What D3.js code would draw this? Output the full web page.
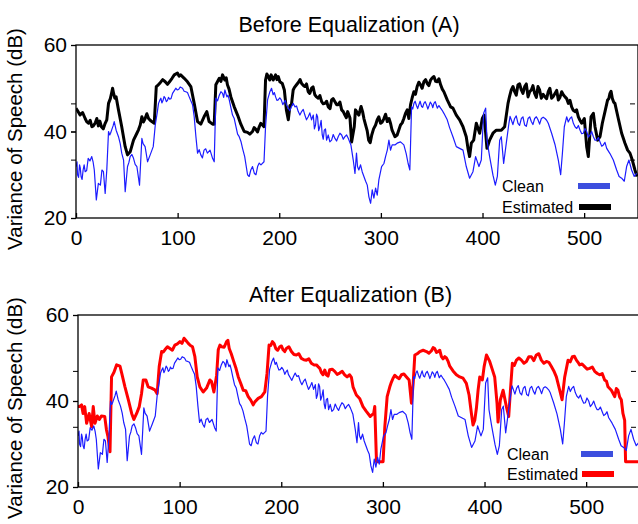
<!DOCTYPE html>
<html>
<head>
<meta charset="utf-8">
<script src="https://cdn.jsdelivr.net/npm/d3@7"></script>
<style>
body { margin: 0; background: #fff; }
svg { display: block; }
text { font-family: "Liberation Sans", Arial, sans-serif; fill: #000; }
</style>
</head>
<body>
<script>

var svg_width  = 638;
var svg_height = 524;

// titles, ticks, legend
var titles = ["Before Equalization (A)", "After Equalization (B)"];
var yLabel = "Variance of Speech (dB)";
var xTicks = [0, 100, 200, 300, 400, 500];
var yTicks = [20, 40, 60];
var minorTicksA = [33.5, 40, 46.5];
var minorTicksB = [34, 40, 47];
var legendNames = ["Clean", "Estimated"];

// [frame, dB] (main shape)
var clean = [[0,31.9],[1.5,30.0],[3.5,32.3],[5,29.6],[7,31.1],[9,30.7],[12,33.8],[15.5,34.2],[18,31.1],[20,24.2],
  [22,28.0],[24,27.6],[25.5,31.1],[27,30.7],[28.7,25.7],[30.3,31.1],[32,40.0],[34,39.6],[35.3,40.5],[37.6,42.3],
  [39.5,40.3],[41.8,38.8],[45,35.0],[46.8,33.4],[48.4,26.1],[50.7,31.9],[53.3,34.2],[56.6,33.8],[59.9,31.9],[62.5,27.6],
  [64.8,38.4],[66,37.2],[68,36.5],[70.4,33.0],[73,34.6],[76,36.5],[78,41.5],[81.2,46.5],[83.5,47.7],[85.5,47.1],
  [87.8,47.7],[90,47.2],[92,47.5],[95,48.8],[98.2,50.0],[101,49.7],[104.8,50.0],[108,49.2],[111.4,48.0],[114.7,46.2],
  [116.3,43.4],[118,38.8],[119.6,35.0],[122.8,34.6],[126,35.7],[127.6,36.0],[129.3,35.0],[131.9,35.7],[134.4,33.8],[136,33.0],
  [137.6,47.7],[141,48.4],[144.2,48.8],[146.5,49.6],[148.5,48.0],[150.8,47.3],[154,43.8],[157.4,41.1],[160.6,38.8],[164,36.0],
  [166,34.2],[168.8,30.0],[172,31.1],[175.5,30.3],[178.7,31.9],[182,32.3],[185,33.0],[186.5,41.1],[188.5,47.3],[190.8,49.2],
  [192.4,50.0],[194,48.5],[196.4,48.0],[199,47.3],[202,47.3],[205,46.9],[207,46.2],[208.9,45.4],[212,45.7],[213.7,46.5],
  [215.4,45.7],[218.7,44.6],[222,44.6],[225.2,43.8],[228.5,43.4],[231.8,42.7],[233.5,43.8],[235.7,41.5],[237.7,43.4],[240,41.1],
  [242.3,39.2],[244.3,40.3],[246.6,38.0],[248.2,39.2],[251.5,38.0],[254.8,38.4],[258,38.8],[261.4,39.2],[264.6,38.8],[268,38.4],
  [270.5,36.9],[272.8,33.4],[274.5,30.3],[276,35.0],[277,31.9],[278.3,31.1],[280,32.3],[281.6,30.7],[283.3,29.6],[285,28.5],
  [286.6,27.6],[288.2,24.9],[289.9,23.4],[291.5,26.5],[293.1,24.6],[294.8,26.9],[296.4,25.3],[298,28.8],[300.7,31.9],[303,32.6],
  [304.6,34.2],[306.3,35.7],[307.9,38.0],[309.5,35.7],[311.1,36.9],[313.8,36.9],[316,37.3],[319.3,37.6],[322.6,36.9],[324.9,34.9],
  [326.8,32.6],[328.5,31.1],[330.2,45.7],[332.5,46.5],[335,46.0],[337.4,46.2],[340,45.8],[342.3,46.5],[345,46.1],[347.3,45.9],
  [350,46.3],[352.2,46.5],[355.5,45.4],[358.8,45.4],[362,44.2],[365.3,42.7],[367.6,40.9],[370.9,38.8],[374.2,36.5],[377.5,36.1],
  [380.8,35.7],[384,31.9],[387.3,29.2],[390.6,30.7],[393.2,34.2],[396.5,31.9],[398.8,33.4],[401.1,44.2],[403.1,45.4],[404.4,38.0],
  [407,34.2],[410.3,29.9],[412.6,27.6],[414.6,29.6],[416.9,38.0],[418.5,38.8],[420.8,32.6],[423.4,37.3],[426,41.9],[428.3,42.7],
  [431.6,43.0],[434.9,41.9],[438.2,43.0],[441.5,41.5],[444.8,43.0],[448,42.3],[451.3,43.0],[454.6,42.7],[457.9,43.0],[461.5,43.0],
  [464.7,41.9],[468,39.6],[471.3,37.0],[474.6,33.4],[476.9,30.0],[478.6,34.9],[480.5,41.1],[482.8,43.4],[486.1,43.0],[489.4,41.9],
  [492.7,40.7],[496,40.3],[499.2,39.6],[502.5,40.0],[505.8,39.2],[509.1,38.8],[512.3,38.0],[515.6,37.6],[518.9,36.9],[522.2,36.1],
  [525.4,34.9],[528.7,33.4],[532,31.1],[534.4,29.6],[536.9,29.2],[539.5,28.5],[541.8,31.9],[544.1,33.4],[546.7,31.1],[549.3,29.6],
  [551.6,30.3]];

// small wiggles read between the main points
var cleanDetail = [[1,33.0],[2.5,29.4],[4.2,31.6],[6,28.9],[8,32.3],[10.5,31.0],[13.7,33.2],[16.8,33.0],[33.2,39.2],[36.5,41.3],
  [43.5,37.2],[52,32.8],[55,34.7],[58.2,32.4],[80,44.5],[82.4,47.2],[84.5,46.6],[86.7,48.1],[88.9,46.9],[91,47.9],
  [93.5,47.6],[96.6,49.4],[99.6,49.6],[102.5,50.3],[106.4,49.3],[109.7,49.0],[113,47.1],[121.2,35.8],[124.4,33.9],[139.3,47.1],
  [142.6,49.2],[145.3,47.9],[149.6,48.4],[152.4,45.5],[155.7,43.0],[159,39.4],[162.3,37.7],[170.4,29.6],[173.7,31.9],[177.1,30.0],
  [180.3,32.7],[195.2,49.0],[197.7,47.2],[200.5,47.8],[203.5,46.2],[206,47.2],[210.4,44.8],[217,45.9],[220.3,43.8],[223.6,45.1],
  [226.8,42.7],[230.1,44.3],[234.6,40.6],[236.7,44.0],[238.8,40.2],[241.2,42.6],[243.3,38.2],[245.5,40.6],[249.8,37.6],[253.1,39.3],
  [256.4,37.8],[259.7,39.6],[263,38.2],[266.3,39.2],[331.3,45.2],[333.7,47.0],[336.2,45.3],[338.6,47.0],[341.1,45.6],[343.6,46.9],
  [346.2,45.2],[348.6,46.8],[351.1,45.5],[353.5,46.9],[357.1,46.0],[360.3,44.9],[427.1,43.5],[429.9,41.6],[433.2,43.6],[436.5,41.4],
  [439.8,43.4],[443.1,41.2],[446.4,43.4],[449.6,41.6],[453,43.4],[456.2,41.7],[459.7,43.3],[463.1,42.6],[484.4,42.2],[487.7,43.4],
  [491,41.1],[494.3,41.4],[497.6,39.5],[500.8,40.7],[504.1,38.7],[507.4,40.0],[510.7,38.0],[514,38.6],[517.3,36.6],[520.5,37.5]];

var estBefore = [[0,45.4],[4,43.8],[9,43.0],[12.3,41.9],[15.6,41.1],[17,41.3],[20.5,43.0],[22,41.3],[25,41.1],[28.7,41.9],
  [30.3,42.7],[32,46.5],[35.3,49.2],[37,48.8],[39.5,48.0],[41.8,45.0],[45,41.1],[48.4,36.5],[50.7,34.6],[53.3,35.3],
  [56.6,38.0],[59.9,39.6],[63.2,41.5],[64.8,43.4],[68,43.0],[71.4,43.0],[74.6,42.3],[77,41.9],[79,50.4],[82.9,51.3],
  [87.8,51.5],[92,51.5],[96.7,53.1],[103,53.1],[106.5,52.3],[109.7,51.5],[113,50.4],[116.3,46.5],[119.6,42.3],[122.8,41.7],
  [126,43.4],[128.7,44.6],[131,42.3],[134.4,41.7],[136,41.7],[137.6,50.8],[141,52.3],[144.2,53.1],[146.5,51.9],[149,50.8],
  [152.4,48.0],[155.7,45.7],[159,43.8],[162.2,41.7],[165.5,40.0],[168.8,39.8],[173.7,40.0],[177,40.5],[180.3,41.1],[183.5,41.5],
  [185,41.1],[186.5,51.9],[189.2,52.7],[192,53.1],[194,51.9],[196.4,53.1],[199,52.7],[200.6,51.5],[203,51.1],[205,49.6],
  [207,45.0],[208.9,42.7],[210.5,46.0],[212,46.2],[213.7,49.6],[217,50.8],[219.3,51.5],[222,51.1],[225.2,50.4],[228.5,49.2],
  [231.8,50.0],[235,48.5],[238.4,47.7],[241.7,46.9],[245,46.5],[248.2,45.7],[251.5,47.3],[254.8,46.9],[258,46.2],[261.4,45.0],
  [264.6,43.8],[267.3,44.6],[269.6,43.1],[271.2,37.6],[273.8,41.1],[275,45.0],[278.3,43.8],[280.5,45.8],[283.3,43.0],[285,41.5],
  [288,38.0],[291,39.2],[294.8,41.5],[296.4,42.7],[299.7,41.9],[303,43.0],[306.3,42.3],[308,43.0],[311,40.3],[313.8,38.8],
  [316,39.2],[319.3,41.5],[322.6,43.0],[325.9,45.0],[327.5,43.0],[329.2,46.2],[332.5,49.2],[335.7,50.4],[339,50.8],[342.3,51.5],
  [345.6,51.1],[348.9,51.9],[352.2,52.7],[355.5,51.5],[358.8,50.8],[362,49.2],[365.3,47.3],[368.6,45.7],[370.9,45.4],[374.2,43.8],
  [377.5,42.7],[380.8,41.1],[384,38.8],[385.7,36.1],[387.3,34.2],[389,37.3],[391.3,38.0],[393.9,41.9],[397.2,39.6],[399.8,43.0],
  [401.5,43.8],[403.1,39.6],[404.4,36.1],[407,38.0],[410.3,39.6],[413.6,40.3],[418.5,40.3],[421.8,41.1],[425.1,46.5],[428.3,49.6],
  [431.6,49.2],[434.9,50.8],[438.2,49.6],[441.5,50.4],[444.8,48.0],[448,49.6],[451.3,48.8],[454.6,50.4],[457.9,47.7],[461.5,48.0],
  [464.7,49.2],[468,47.7],[471.3,48.8],[474.6,47.3],[477.9,49.2],[481.2,48.0],[484.5,46.5],[487.7,45.7],[491,44.6],[494.3,43.4],
  [497.6,41.9],[500.2,43.0],[502.5,36.5],[504.1,34.2],[506.8,43.4],[509.1,44.2],[510.7,41.1],[513.3,38.0],[515.6,38.8],[517.9,41.9],
  [520.5,44.6],[523.1,47.3],[525.4,48.8],[527.7,47.7],[530.3,46.5],[533.6,43.0],[536.9,39.6],[540.2,37.3],[542.8,35.7],[545.1,35.0],
  [547.4,33.4],[550,31.1],[552,29.6]];

var estBeforeDetail = [[2,44.6],[6.5,44.4],[10.5,42.3],[14,42.6],[19,42.0],[23.5,42.4],[26.8,40.6],[33.8,47.6],[36,50.0],[38.2,47.7],
  [61.5,40.4],[66.4,42.2],[69.7,44.1],[73,42.6],[81,50.8],[85.3,52.0],[90,50.9],[94.5,52.3],[99.8,53.5],[101.5,52.8],
  [142.6,51.6],[147.8,52.4],[150.6,49.8],[171,39.4],[175.3,40.9],[178.6,39.9],[181.8,41.9],[187.8,53.3],[190.6,51.9],[197.7,52.0],
  [215,50.2],[220.5,52.0],[224,50.6],[226.8,51.0],[230,48.8],[233.3,50.3],[236.6,48.0],[240,48.3],[243.3,46.4],[246.6,47.0],
  [250,45.3],[253,47.6],[256.5,46.2],[259.7,46.8],[263,44.6],[266,43.2],[282,44.6],[286.5,40.2],[289.5,37.4],[292.8,40.6],
  [298,43.4],[301.4,42.2],[304.6,44.0],[309.6,41.8],[321,42.0],[324.2,44.2],[330.8,47.8],[334,48.6],[337.3,51.4],[340.6,50.0],
  [344,52.0],[347.2,50.6],[350.5,52.4],[353.8,51.6],[357.1,52.2],[360.4,49.8],[426.7,48.2],[430,50.4],[433.2,48.4],[436.5,51.0],
  [439.8,48.8],[443.1,51.0],[446.4,49.2],[449.6,50.6],[453,47.9],[456.2,49.6],[459.7,48.6],[463.1,47.6],[466.3,50.0],[469.6,48.1],
  [473,49.5],[476.2,47.9],[479.5,48.5],[482.8,47.6],[486.1,47.2],[489.3,44.9],[492.6,45.0],[495.9,42.6],[524.3,47.6],[526.5,49.3],
  [529,46.8]];

var estAfter = [[0,38.7],[1.3,38.7],[3.5,39.1],[5,37.1],[6.6,38.7],[8.5,34.8],[11,37.1],[13.4,34.0],[15,38.7],[16.7,34.8],
  [19,36.5],[21,35.7],[23,36.5],[26.3,36.4],[28,33.3],[29.5,31.7],[31.5,28.2],[33,45.6],[35.4,46.7],[38,48.4],
  [41.3,48.1],[43,46.5],[46.2,43.3],[49.5,40.3],[52.8,37.1],[55,35.7],[57.7,37.1],[60.3,38.7],[62.5,41.7],[64.2,44.9],
  [66.8,44.9],[69,43.3],[72.3,43.0],[75.6,42.6],[77.9,41.7],[79.9,48.0],[82.3,51.5],[85.5,51.9],[90.4,52.2],[95.3,53.0],
  [100.3,53.8],[104.3,54.6],[108.5,53.4],[112.7,52.6],[115,50.3],[117.3,45.6],[119.9,43.3],[123.2,42.1],[126.5,43.0],[129.8,44.9],
  [131.4,44.5],[133.7,42.1],[136.4,46.0],[138,51.9],[141.3,52.6],[146.2,53.8],[148.8,52.2],[152.8,49.5],[157.7,45.6],[162.6,42.5],
  [167.5,41.0],[172.4,39.1],[174,39.8],[177.3,40.6],[180.5,41.0],[183.8,42.1],[186,46.4],[188,53.0],[191.3,53.8],[194.6,52.2],
  [198.5,52.6],[201.8,51.9],[205,52.2],[210,51.5],[214.9,50.7],[219.8,49.9],[224.7,49.5],[229.6,48.8],[234.6,48.4],[237.9,47.6],
  [241.1,46.1],[244.4,46.1],[247.7,47.3],[252.6,46.9],[257.5,46.5],[262.4,46.1],[267.3,46.1],[270.6,43.3],[273.9,41.4],[277.1,40.6],
  [280.4,38.7],[283.7,37.6],[287.6,36.4],[290.9,37.1],[292,38.7],[293.7,25.9],[300.2,25.9],[301.9,34.0],[304.2,41.0],[306.8,43.3],
  [310,45.3],[313.4,45.6],[318.3,46.1],[323.2,45.6],[325.8,44.9],[328.1,39.5],[329.8,44.1],[331.4,50.7],[336.3,51.5],[342.9,51.5],
  [347.8,51.7],[351,52.2],[354.4,51.5],[357.6,50.3],[360.9,50.3],[364.2,49.2],[365.8,48.1],[369,47.0],[372.3,46.1],[375.6,45.6],
  [378.9,45.3],[382.1,44.1],[384.8,41.4],[387.1,37.1],[388.7,34.4],[390.4,35.5],[392,38.3],[393.7,42.6],[395.3,45.6],[397.9,44.9],
  [399.6,48.0],[401.9,50.7],[405.1,49.2],[407.7,47.3],[410,45.6],[412.3,39.5],[413.3,35.1],[415.6,40.3],[418.3,42.5],[421.5,38.7],
  [423.8,36.4],[425.5,42.5],[427.4,48.8],[431.4,49.5],[436.3,49.5],[441.2,49.2],[446.1,50.3],[451,50.7],[455.9,49.5],[460.9,49.2],
  [465.8,48.0],[470.7,45.6],[474,42.5],[476.3,40.3],[478.9,45.6],[482.2,49.5],[486.4,50.3],[490.4,49.5],[493.6,48.4],[498.5,48.0],
  [503.5,47.6],[508.4,46.9],[513.3,46.1],[518.2,44.9],[521.5,43.3],[524.8,42.5],[528.1,41.0],[531.3,42.5],[534.6,40.3],[536.2,37.1],
  [537.9,35.5],[538.8,25.9],[552,25.9]];

var estAfterDetail = [[84,51.4],[88,52.6],[92.8,51.8],[97.8,53.3],[102.3,53.4],[106.4,54.0],[110.6,52.9],[139.7,53.0],[143.8,52.5],[147.5,54.1],
  [150.8,51.0],[155.2,47.8],[160,44.2],[165,42.4],[170,40.2],[189.7,52.9],[193,53.3],[196.5,51.8],[200.2,52.8],[203.4,51.5],
  [207.5,52.6],[212.5,50.8],[217.3,51.0],[222.2,49.6],[227.1,49.8],[232.1,48.4],[236.2,48.0],[239.5,46.6],[242.8,47.2],[246,45.8],
  [250.1,47.4],[255,46.2],[260,46.9],[264.8,45.6],[269,45.5],[308.4,44.4],[311.7,46.0],[316,45.2],[320.7,46.3],[334,51.0],
  [339.6,51.8],[345.3,51.1],[349.4,52.4],[352.7,51.3],[356,51.8],[359.2,49.8],[362.5,50.0],[429.4,48.3],[433.8,50.0],[438.8,48.8],
  [443.6,50.3],[448.5,49.4],[453.4,51.0],[458.4,48.8],[463.3,49.0],[468.2,47.0],[484.3,49.1],[488.4,50.4],[492,49.0],[496,48.6],
  [501,47.4],[506,47.9],[511,46.4],[515.8,46.4],[520,44.6],[526.4,41.8],[529.7,42.9],[533,40.9]];

function byFrame(a, b) { return a[0] - b[0]; }
var cleanAll = clean.concat(cleanDetail).sort(byFrame);
var estBeforeAll = estBefore.concat(estBeforeDetail).sort(byFrame);
var estAfterAll = estAfter.concat(estAfterDetail).sort(byFrame);

var panels = [
  {id: "a", title: titles[0], est: estBeforeAll, estColor: "#000000", minor: minorTicksA,
   left: 76, right: 638, top: 45, bottom: 218, xMax: 553,
   titleY: 32, labelY: 139, legX: 502, legY: [186, 207], barX: 578},
  {id: "b", title: titles[1], est: estAfterAll, estColor: "#ff0000", minor: minorTicksB,
   left: 78, right: 639, top: 315, bottom: 487, xMax: 552,
   titleY: 302, labelY: 408, legX: 507, legY: [454, 474], barX: 581}
];

var svg = d3.select('body').append('svg')
            .attr('width', svg_width)
            .attr('height', svg_height);

panels.forEach(function(p) {
  var x = d3.scaleLinear().domain([0, p.xMax]).range([p.left, p.right]);
  var y = d3.scaleLinear().domain([20, 60]).range([p.bottom, p.top]);

  svg.append("clipPath").attr("id", "clip-" + p.id)
     .append("rect")
     .attr("x", p.left).attr("y", p.top)
     .attr("width", p.right - p.left).attr("height", p.bottom - p.top);

  var line = d3.line()
      .x(function(d) { return x(d[0]); })
      .y(function(d) { return y(d[1]); });

  var plot = svg.append("g").attr("clip-path", "url(#clip-" + p.id + ")");

  plot.append("path")
      .datum(p.est)
      .attr("d", line)
      .attr("fill", "none")
      .attr("stroke", p.estColor)
      .attr("stroke-width", 3)
      .attr("stroke-linejoin", "round");

  plot.append("path")
      .datum(cleanAll)
      .attr("d", line)
      .attr("fill", "none")
      .attr("stroke", "#1c1cff")
      .attr("stroke-width", 1.2)
      .attr("stroke-linejoin", "round");

  // frame
  svg.append("rect")
     .attr("x", p.left).attr("y", p.top)
     .attr("width", p.right - p.left).attr("height", p.bottom - p.top)
     .attr("fill", "none")
     .attr("stroke", "#000")
     .attr("stroke-width", 1.3);

  var xAxis = svg.append("g")
      .attr("transform", "translate(0," + p.bottom + ")")
      .call(d3.axisBottom(x).tickValues(xTicks).tickSizeInner(-5).tickSizeOuter(0).tickPadding(12));
  xAxis.select(".domain").remove();
  xAxis.selectAll("text").attr("font-size", 21).attr("font-family", null);
  xAxis.selectAll("line").attr("stroke-width", 1.3);

  var yAxis = svg.append("g")
      .attr("transform", "translate(" + p.left + ",0)")
      .call(d3.axisLeft(y).tickValues(yTicks).tickSize(5).tickPadding(4));
  yAxis.select(".domain").remove();
  yAxis.selectAll("text").attr("font-size", 21).attr("font-family", null);
  yAxis.selectAll("line").attr("stroke-width", 1.3);

  var yMinor = svg.append("g")
      .attr("transform", "translate(" + p.left + ",0)")
      .call(d3.axisLeft(y).tickValues(p.minor).tickSize(5).tickFormat(""));
  yMinor.select(".domain").remove();

  var yRight = svg.append("g")
      .attr("transform", "translate(" + (p.right - 3) + ",0)")
      .call(d3.axisLeft(y).tickValues(p.minor).tickSize(5).tickFormat(""));
  yRight.select(".domain").remove();

  svg.append("text")
     .attr("x", (p.left + p.right) / 2 - 8)
     .attr("y", p.titleY)
     .attr("text-anchor", "middle")
     .attr("font-size", 21.5)
     .text(p.title);

  svg.append("text")
     .attr("transform", "translate(22," + p.labelY + ") rotate(-90)")
     .attr("text-anchor", "middle")
     .attr("font-size", 20.5)
     .text(yLabel);

  // legend
  var colors = ["#3c4ede", p.estColor];
  legendNames.forEach(function(name, i) {
    svg.append("text")
       .attr("x", p.legX)
       .attr("y", p.legY[i] + 6)
       .attr("font-size", 16)
       .text(name);
    svg.append("rect")
       .attr("x", p.barX + (i ? 1 : 0))
       .attr("y", p.legY[i] - 3)
       .attr("width", 32)
       .attr("height", 6)
       .attr("fill", colors[i]);
  });
});

</script>
</body>
</html>
